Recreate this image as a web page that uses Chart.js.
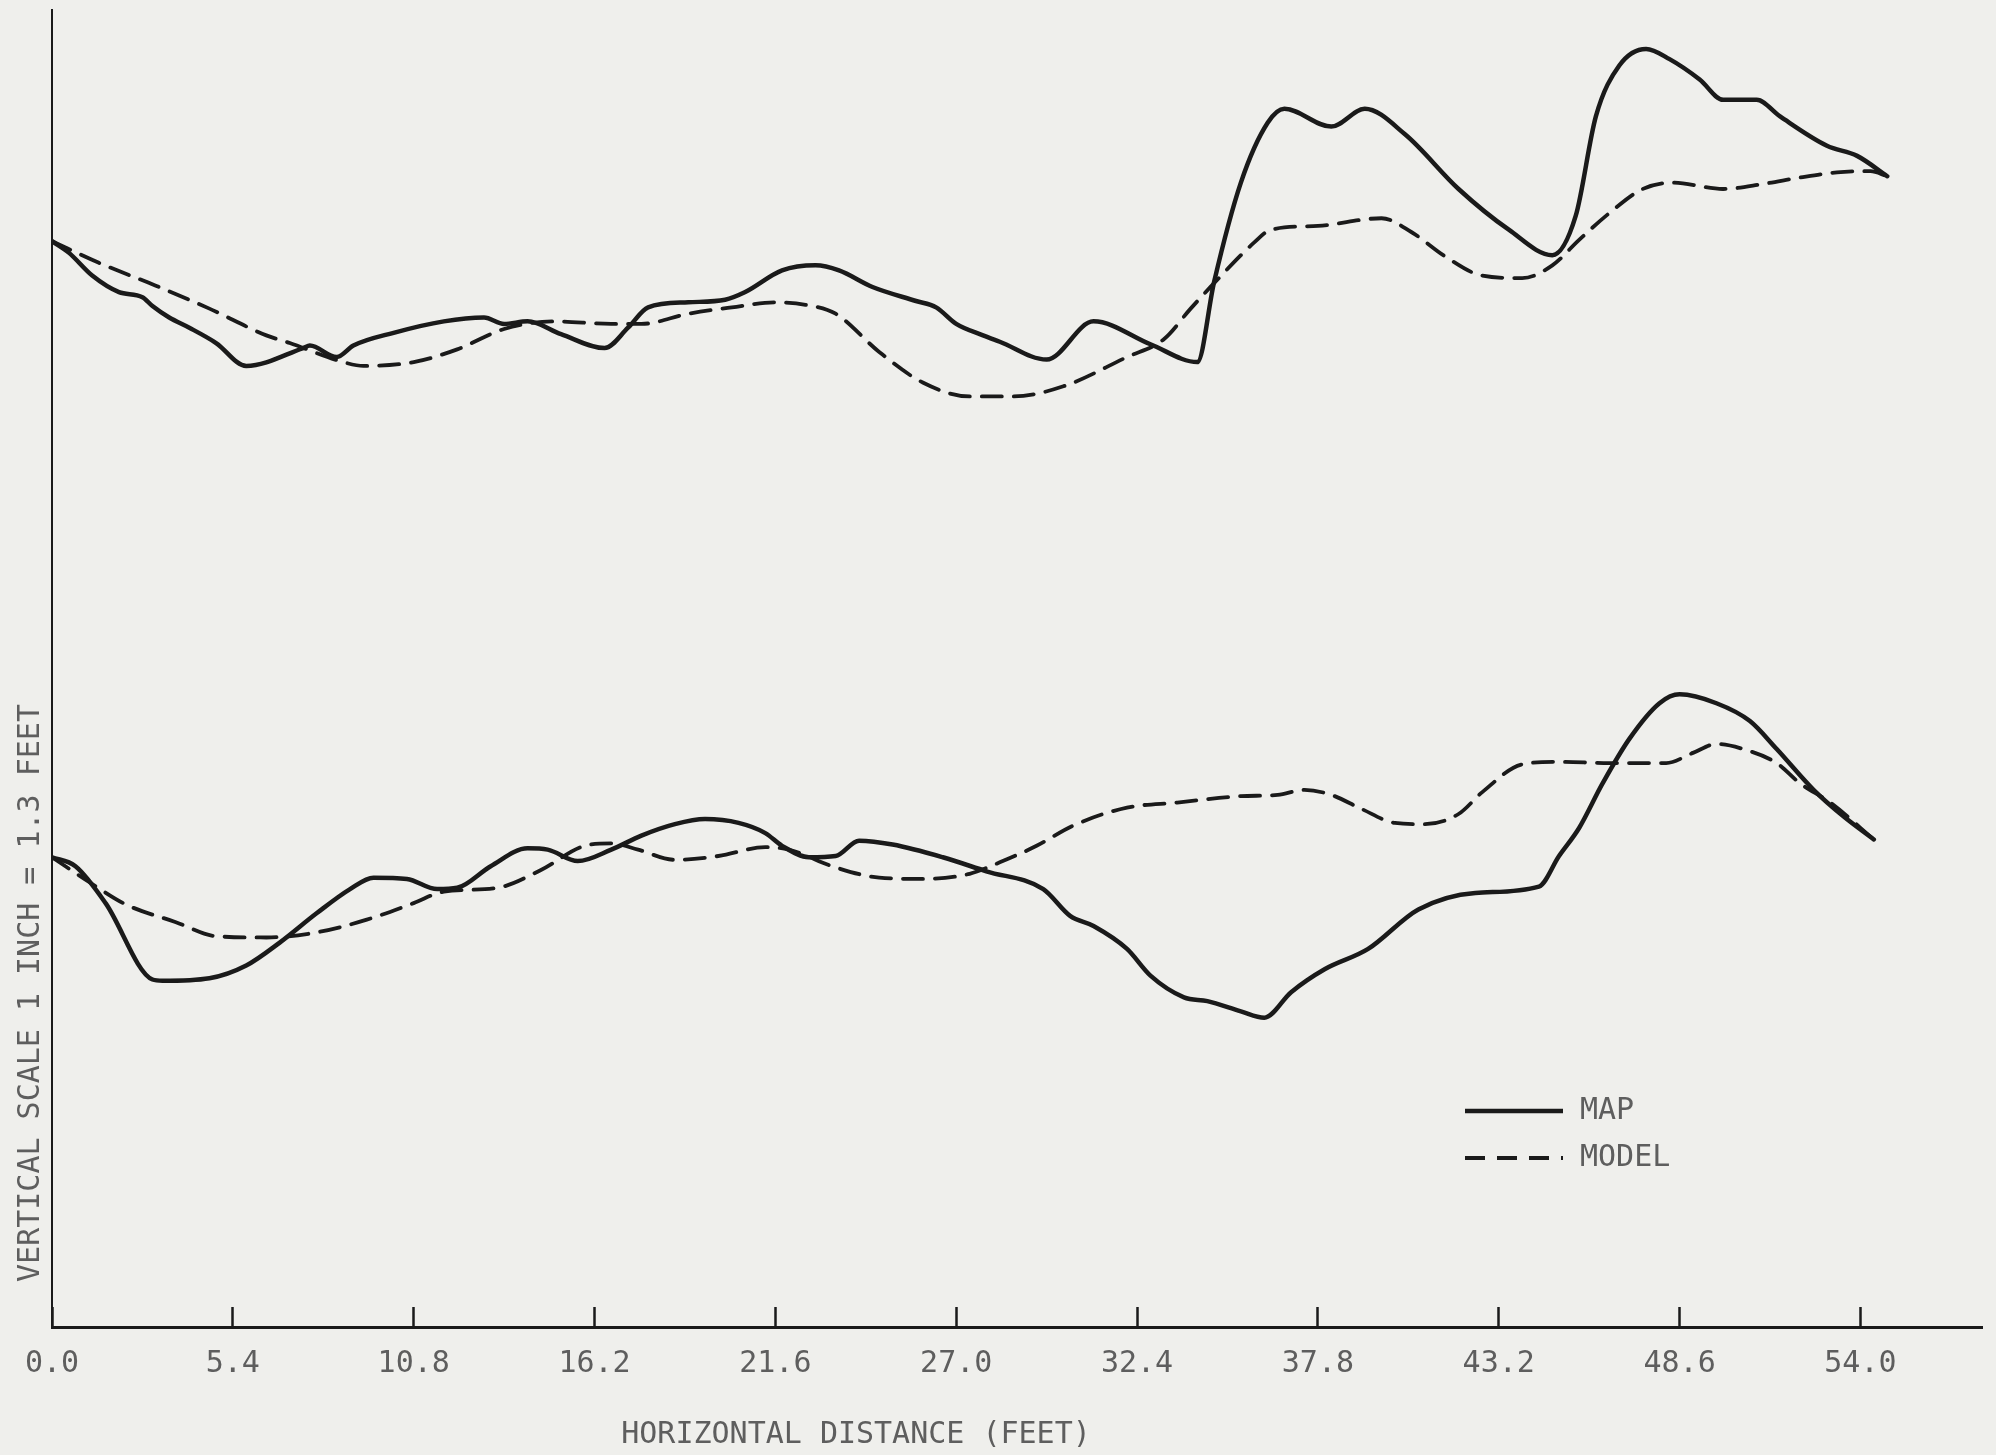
<!DOCTYPE html>
<html>
<head>
<meta charset="utf-8">
<script src="https://cdn.jsdelivr.net/npm/chart.js@4.4.1/dist/chart.umd.min.js"></script>
<style>
html,body{margin:0;padding:0;background:#efefec;}
canvas{display:block;}
</style>
</head>
<body>
<canvas id="c" width="1996" height="1455"></canvas>
<script>
// ---- data (horizontal distance in feet, vertical in relative plot units) ----
const xTicks = [0.0, 5.4, 10.8, 16.2, 21.6, 27.0, 32.4, 37.8, 43.2, 48.6, 54.0];
const seriesNames = ['MAP', 'MODEL'];
const xTitle = 'HORIZONTAL DISTANCE (FEET)';
const yTitle = 'VERTICAL SCALE 1 INCH = 1.3 FEET';

const upperMapX = [0.0,0.5,1.2,2.0,2.7,3.0,3.5,4.1,4.9,5.8,7.5,7.7,8.5,9.0,10.2,11.7,12.9,13.5,14.2,15.2,16.5,17.2,17.8,19.0,20.1,20.7,21.8,22.8,23.5,24.5,25.8,26.4,27.0,27.8,28.3,29.7,31.1,32.8,34.2,34.7,35.5,36.3,36.8,38.2,39.2,40.4,42.0,43.5,44.8,45.5,46.1,46.8,47.6,48.3,49.2,49.9,50.9,51.6,53.0,53.9,54.8];
const upperMapY = [85.3,84.4,82.6,81.3,80.9,80.2,79.3,78.5,77.3,75.5,76.9,77.1,76.2,77.1,78.1,79.0,79.3,78.8,79.0,78.0,76.9,78.5,80.1,80.5,80.7,81.3,83.0,83.4,83.0,81.7,80.6,80.1,78.8,77.9,77.4,76.0,79.0,77.2,75.8,82.1,89.9,94.6,95.7,94.3,95.7,93.7,89.4,86.2,84.2,87.3,95.1,99.1,100.4,99.6,98.0,96.4,96.4,95.1,92.8,92.0,90.4];

const upperModelX = [0.0,1.4,3.1,4.7,6.4,7.1,8.7,9.3,10.8,12.1,13.5,15.0,16.7,17.6,19.0,20.3,21.6,22.5,23.4,24.7,26.0,27.4,28.7,30.2,32.1,33.2,34.0,34.7,35.9,36.4,37.8,39.7,40.6,41.6,42.7,43.9,44.8,45.6,46.5,47.5,48.4,49.9,51.1,52.2,53.3,54.3,54.8];
const upperModelY = [85.3,83.6,81.8,80.0,77.9,77.3,75.8,75.5,75.8,76.8,78.4,79.0,78.8,78.8,79.6,80.1,80.5,80.3,79.6,76.6,74.2,73.1,73.1,73.9,76.2,77.6,80.0,82.0,85.2,86.2,86.5,87.1,86.0,84.1,82.6,82.4,83.4,85.4,87.5,89.4,89.9,89.4,89.8,90.3,90.7,90.8,90.4];

const lowerMapX = [0.0,0.7,1.6,3.0,3.3,4.7,5.8,6.8,7.9,8.9,9.6,10.6,11.5,12.1,13.1,14.2,14.8,15.7,16.7,17.6,18.6,19.5,20.5,21.3,21.8,22.6,23.4,24.1,25.1,26.6,27.9,29.6,30.4,31.1,32.1,32.8,33.8,34.5,35.5,36.2,37.0,38.0,39.3,40.8,42.5,44.4,45.0,45.6,46.3,47.1,48.0,48.6,49.7,50.7,51.5,52.6,53.5,54.4];
const lowerMapY = [36.9,36.2,33.3,27.3,27.2,27.4,28.4,30.2,32.5,34.4,35.3,35.2,34.4,34.5,36.2,37.6,37.5,36.6,37.5,38.6,39.5,39.9,39.6,38.8,37.8,36.9,37.0,38.2,37.9,36.9,35.8,34.4,32.3,31.5,29.7,27.6,25.9,25.6,24.8,24.3,26.3,28.1,29.7,32.8,34.1,34.6,37.0,39.2,42.7,46.2,49.0,49.7,49.0,47.6,45.4,42.2,40.1,38.3];

const lowerModelX = [0.0,1.2,2.2,3.7,4.9,6.4,7.9,9.4,10.8,11.7,13.3,14.6,15.9,16.7,17.5,18.6,19.9,21.3,22.0,23.4,24.7,26.0,27.4,28.3,29.4,30.5,32.1,33.6,35.5,36.6,37.4,38.2,39.1,40.1,41.0,42.0,42.7,43.9,45.0,46.5,48.2,49.0,49.7,50.5,51.5,52.2,53.1,54.4];
const lowerModelY = [36.9,34.8,33.2,31.8,30.7,30.6,31.0,32.0,33.3,34.2,34.5,35.9,37.8,38.0,37.5,36.7,37.0,37.7,37.5,36.1,35.3,35.2,35.6,36.5,37.8,39.4,40.8,41.2,41.7,41.8,42.2,41.8,40.7,39.6,39.5,40.3,42.0,44.2,44.4,44.3,44.3,45.1,45.8,45.4,44.3,42.7,41.2,38.3];

// ---- styles ----
const INK = '#1a1a1a';
const TEXT = '#5e5e5e';
const FONT = '"DejaVu Sans Mono", "Liberation Mono", monospace';
const DASH = [20, 12];

function pts(xs, ys) { return xs.map((x, i) => ({ x: x, y: ys[i] })); }

const datasets = [
  { label: seriesNames[0], data: pts(upperMapX, upperMapY), borderColor: INK, borderWidth: 4.5, borderDash: [] },
  { label: seriesNames[1], data: pts(upperModelX, upperModelY), borderColor: INK, borderWidth: 3.8, borderDash: DASH },
  { label: seriesNames[0], data: pts(lowerMapX, lowerMapY), borderColor: INK, borderWidth: 4.5, borderDash: [] },
  { label: seriesNames[1], data: pts(lowerModelX, lowerModelY), borderColor: INK, borderWidth: 3.8, borderDash: DASH }
];

const decorations = {
  id: 'decorations',
  afterDraw(chart) {
    const ctx = chart.ctx;
    const a = chart.chartArea;
    ctx.save();
    ctx.fillStyle = TEXT;
    ctx.font = '30px ' + FONT;
    ctx.textAlign = 'center';
    ctx.textBaseline = 'middle';
    // x axis title
    ctx.fillText(xTitle, 856, a.bottom + 108);
    // y axis title
    ctx.save();
    ctx.translate(a.left - 21, 993);
    ctx.rotate(-Math.PI / 2);
    ctx.fillText(yTitle, 0, 0);
    ctx.restore();
    // legend
    const ds = chart.data.datasets;
    const rows = [[0, 1111], [1, 1158]];
    ctx.textAlign = 'left';
    rows.forEach(([i, y]) => {
      const d = ds[i];
      ctx.strokeStyle = d.borderColor;
      ctx.lineWidth = d.borderWidth;
      ctx.setLineDash(d.borderDash || []);
      ctx.beginPath();
      ctx.moveTo(1465, y);
      ctx.lineTo(1563, y);
      ctx.stroke();
      ctx.setLineDash([]);
      ctx.fillText(d.label, 1580, y);
    });
    ctx.restore();
  }
};

new Chart(document.getElementById('c'), {
  type: 'line',
  data: { datasets: datasets },
  plugins: [decorations],
  options: {
    responsive: false,
    animation: false,
    devicePixelRatio: 1,
    layout: { padding: { left: 52, right: 14, top: 10, bottom: 0 } },
    plugins: { legend: { display: false }, tooltip: { enabled: false } },
    elements: {
      point: { radius: 0, hoverRadius: 0 },
      line: { cubicInterpolationMode: 'monotone', borderCapStyle: 'round', borderJoinStyle: 'round', fill: false }
    },
    scales: {
      x: {
        type: 'linear',
        min: 0,
        max: 57.63,
        afterBuildTicks: s => { s.ticks = xTicks.map(v => ({ value: v })); },
        afterFit: s => { s.height = 128; s.paddingLeft = 0; s.paddingRight = 0; },
        ticks: {
          padding: 39,
          color: TEXT,
          font: { family: FONT, size: 30 },
          maxRotation: 0,
          autoSkip: false,
          callback: v => Number(v).toFixed(1)
        },
        grid: { drawOnChartArea: false, drawTicks: true, tickLength: -20, tickColor: INK, tickWidth: 2.5 },
        border: { display: true, color: INK, width: 3 }
      },
      y: {
        type: 'linear',
        min: 0,
        max: 103.46,
        ticks: { display: false },
        grid: { drawOnChartArea: false, drawTicks: false, tickLength: 0 },
        border: { display: true, color: INK, width: 2 }
      }
    }
  }
});
</script>
</body>
</html>
